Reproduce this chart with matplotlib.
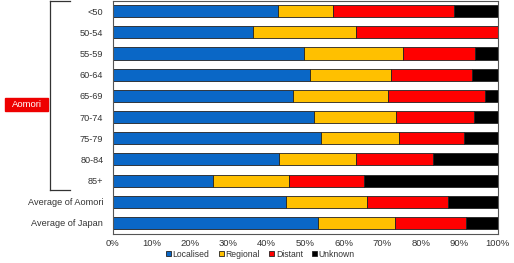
import matplotlib.pyplot as plt
from matplotlib.patches import Rectangle
from matplotlib.lines import Line2D
import numpy as np

plt.rcParams['font.family'] = ['Liberation Sans', 'DejaVu Sans']

categories = ["<50", "50-54", "55-59", "60-64", "65-69", "70-74", "75-79",
              "80-84", "85+", "Average of Aomori", "Average of Japan"]
localised = [42.9, 36.5, 49.6, 51.3, 46.7, 52.3, 54.1, 43.2, 25.9, 45.0, 53.2]
regional = [14.4, 26.8, 25.7, 20.9, 24.7, 21.4, 20.2, 19.9, 19.9, 21.1, 20.2]
distant = [31.4, 36.7, 18.8, 21.1, 25.3, 20.3, 17.1, 20.1, 19.5, 21.1, 18.4]
unknown = [11.3, 0.0, 5.9, 6.7, 3.3, 6.0, 8.6, 16.8, 34.7, 12.8, 8.2]

series = ["Localised", "Regional", "Distant", "Unknown"]
colors = ["#0A67C6", "#FFC000", "#FF0000", "#000000"]

fig = plt.figure(figsize=(5.14, 2.63), dpi=100)
ax = fig.add_axes([0.2198, 0.112, 0.7482, 0.886])

y = np.arange(len(categories))
left = np.zeros(len(categories))
for name, vals, c in zip(series, [localised, regional, distant, unknown], colors):
    ax.barh(y, vals, left=left, height=0.57, color=c, edgecolor="#222222",
            linewidth=0.6, label=name)
    left += np.array(vals)

ax.set_xlim(0, 100)
ax.set_ylim(len(categories) - 0.5, -0.5)
ax.set_yticks(y)
ax.set_yticklabels(categories, fontsize=6.6, color="#333333")
ax.set_xticks(range(0, 101, 10))
ax.set_xticklabels([f"{v}%" for v in range(0, 101, 10)], fontsize=6.8, color="#333333")
ax.tick_params(axis="y", length=0, pad=7)
ax.tick_params(axis="x", length=0, pad=4)
for s in ax.spines.values():
    s.set_color("#555555")
    s.set_linewidth(0.8)

# bracket for Aomori age groups
fig.add_artist(Line2D([0.0973, 0.0973], [0.998, 0.277], color="#333333", lw=0.9))
fig.add_artist(Line2D([0.0973, 0.136], [0.998, 0.998], color="#333333", lw=0.9))
fig.add_artist(Line2D([0.0973, 0.136], [0.277, 0.277], color="#333333", lw=0.9))
fig.add_artist(Rectangle((0.0097, 0.578), 0.0837, 0.049, color="#EE0000",
                         transform=fig.transFigure))
fig.text(0.0516, 0.6025, "Aomori", color="white", fontsize=6.8,
         ha="center", va="center")

fig.legend(loc="center", bbox_to_anchor=(0.507, 0.034), ncol=4, fontsize=6.2,
           frameon=False, handlelength=0.55, handleheight=0.55,
           handletextpad=0.2, columnspacing=1.1, labelcolor="#333333")

fig.savefig("out.png", dpi=100)
